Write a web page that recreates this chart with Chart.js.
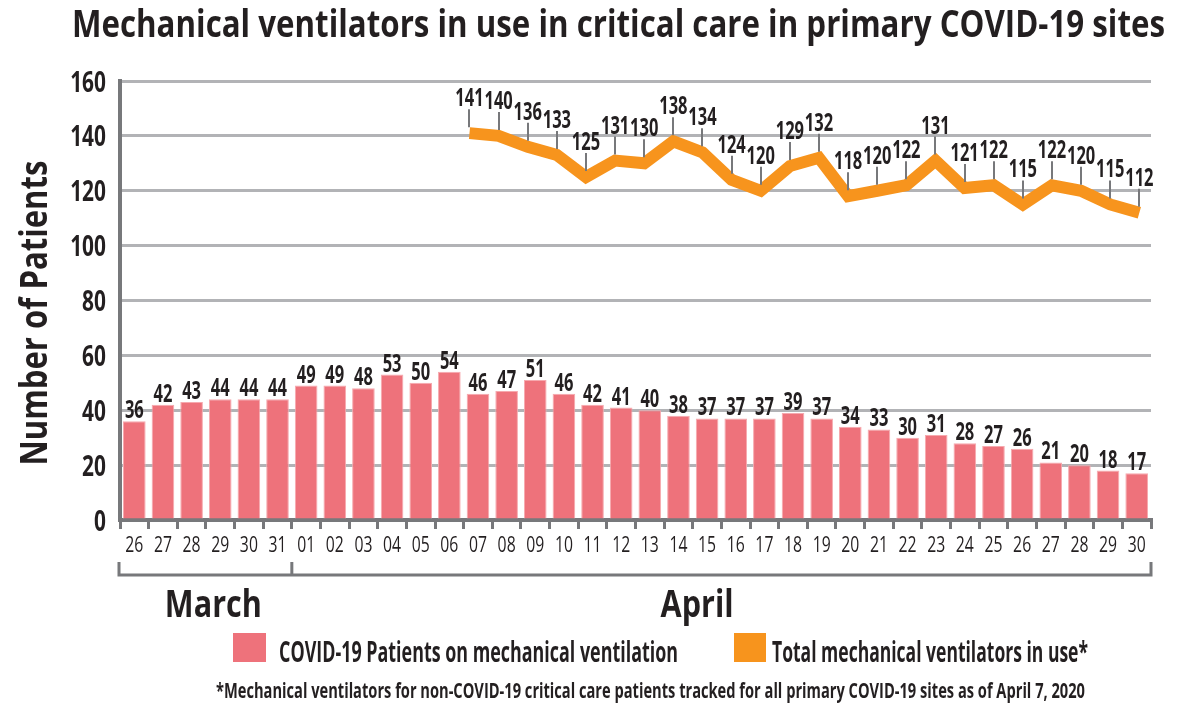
<!DOCTYPE html>
<html>
<head>
<meta charset="utf-8">
<script src="https://cdn.jsdelivr.net/npm/chart.js@4.4.1/dist/chart.umd.min.js"></script>
<style>
  html, body { margin: 0; padding: 0; background: #fff; }
</style>
</head>
<body>
<canvas id="ventChart" width="1181" height="703"></canvas>
<script>
// day labels on the x axis, March 26 to April 30
const dayLabels = ['26', '27', '28', '29', '30', '31',
    '01', '02', '03', '04', '05', '06', '07', '08', '09', '10',
    '11', '12', '13', '14', '15', '16', '17', '18', '19', '20',
    '21', '22', '23', '24', '25', '26', '27', '28', '29', '30'];

// COVID-19 patients on mechanical ventilation (bars)
const covidPatients = [36, 42, 43, 44, 44, 44,
    49, 49, 48, 53, 50, 54, 46, 47, 51, 46,
    42, 41, 40, 38, 37, 37, 37, 39, 37, 34,
    33, 30, 31, 28, 27, 26, 21, 20, 18, 17];

// total mechanical ventilators in use (line), tracked from April 07
const totalVentilators = [141, 140, 136, 133, 125, 131, 130, 138, 134, 124,
    120, 129, 132, 118, 120, 122, 131, 121, 122, 115, 122, 120, 115, 112];
const totalStartIndex = 12;

// y axis range
const yMin = 0;
const yMax = 160;
const yStep = 20;

// months under the x axis
const monthNames = ['March', 'April'];

// texts
const chartTitle = 'Mechanical ventilators in use in critical care in primary COVID-19 sites';
const yTitle = 'Number of Patients';
const legendLabels = ['COVID-19 Patients on mechanical ventilation', 'Total mechanical ventilators in use*'];
const footnote = '*Mechanical ventilators for non-COVID-19 critical care patients tracked for all primary COVID-19 sites as of April 7, 2020';

// colours
const axisGray = '#77787b';
const gridGray = '#b2b3b6';
const textColor = '#231f20';
const barPink = '#ee727b';
const lineOrange = '#f7941d';
const fontFamily = '"Open Sans", "Noto Sans", sans-serif';

//draw text squeezed horizontally so it looks like a condensed face
function drawText(ctx, str, x, y, opts) {
    ctx.save();
    ctx.font = (opts.weight || 'normal') + ' ' + opts.size + 'px ' + fontFamily;
    let sx = opts.sx || 1;
    if (opts.width) {
        sx = opts.width / ctx.measureText(str).width;
    }
    ctx.translate(x, y);
    if (opts.rotate) ctx.rotate(opts.rotate);
    ctx.scale(sx, 1);
    ctx.fillStyle = opts.color || textColor;
    ctx.textAlign = opts.align || 'left';
    ctx.textBaseline = 'alphabetic';
    ctx.fillText(str, 0, 0);
    ctx.restore();
}

//plugin that draws the labels, brackets, legend and notes
const decorations = {
    id: 'decorations',
    afterDraw(chart) {
        const ctx = chart.ctx;
        const xs = chart.scales.x;
        const ys = chart.scales.y;
        const area = chart.chartArea;

        // title
        drawText(ctx, chartTitle, 72, 37, { size: 37, weight: 'bold', width: 1093 });

        // y axis title
        drawText(ctx, yTitle, 47, 313, { size: 37, weight: 'bold', width: 305, align: 'center', rotate: -Math.PI / 2 });

        // y tick labels
        ys.ticks.forEach(t => {
            drawText(ctx, String(t.value), 106, ys.getPixelForValue(t.value) + 10.5,
                { size: 29, weight: 'bold', sx: 0.72, align: 'right' });
        });

        // x tick labels
        dayLabels.forEach((lab, i) => {
            drawText(ctx, lab, xs.getPixelForValue(i), 552, { size: 21, sx: 0.75, align: 'center' });
        });

        // bar value labels
        const barMeta = chart.getDatasetMeta(0);
        barMeta.data.forEach((bar, i) => {
            drawText(ctx, String(covidPatients[i]), bar.x, bar.y - 3,
                { size: 25, weight: 'bold', sx: 0.66, align: 'center' });
        });

        // line value labels with leader ticks
        const lineMeta = chart.getDatasetMeta(1);
        ctx.save();
        ctx.strokeStyle = axisGray;
        ctx.lineWidth = 2;
        lineMeta.data.forEach(pt => {
            ctx.beginPath();
            ctx.moveTo(Math.round(pt.x), pt.y - 24);
            ctx.lineTo(Math.round(pt.x), pt.y - 6);
            ctx.stroke();
        });
        ctx.restore();
        lineMeta.data.forEach((pt, i) => {
            drawText(ctx, String(totalVentilators[i]), pt.x, pt.y - 27,
                { size: 25, weight: 'bold', sx: 0.66, align: 'center' });
        });

        // month brackets
        const split = (xs.getPixelForValue(5) + xs.getPixelForValue(6)) / 2;
        ctx.save();
        ctx.strokeStyle = axisGray;
        ctx.lineWidth = 3;
        ctx.beginPath();
        ctx.moveTo(area.left - 1, 562);
        ctx.lineTo(area.left - 1, 575);
        ctx.lineTo(area.right, 575);
        ctx.lineTo(area.right, 562);
        ctx.moveTo(split, 562);
        ctx.lineTo(split, 575);
        ctx.stroke();
        ctx.restore();

        drawText(ctx, monthNames[0], xs.getPixelForValue(2.76), 617, { size: 38, weight: 'bold', width: 97, align: 'center' });
        drawText(ctx, monthNames[1], xs.getPixelForValue(19.65), 617, { size: 38, weight: 'bold', width: 73, align: 'center' });

        // legend
        ctx.fillStyle = barPink;
        ctx.fillRect(233, 633, 33, 29);
        drawText(ctx, legendLabels[0], 279, 662, { size: 28, weight: 'bold', width: 399 });
        ctx.fillStyle = lineOrange;
        ctx.fillRect(734, 633, 32, 29);
        drawText(ctx, legendLabels[1], 772, 662, { size: 28, weight: 'bold', width: 316 });

        // footnote
        drawText(ctx, footnote, 216, 698, { size: 22, weight: 'bold', width: 869 });
    }
};

const ventChart = new Chart(document.getElementById('ventChart'), {
    type: 'bar',
    data: {
        labels: dayLabels,
        datasets: [{
            label: legendLabels[0],
            data: covidPatients,
            backgroundColor: barPink,
            borderColor: '#f6a9ae',
            borderWidth: 1,
            barPercentage: 0.79,
            categoryPercentage: 1,
            grouped: false,
            order: 2
        }, {
            type: 'line',
            label: legendLabels[1],
            data: totalVentilators.map((v, i) => ({ x: totalStartIndex + i, y: v })),
            xAxisID: 'x2',
            borderColor: lineOrange,
            borderWidth: 12,
            borderJoinStyle: 'miter',
            borderCapStyle: 'butt',
            pointRadius: 0,
            tension: 0,
            fill: false,
            order: 1
        }]
    },
    options: {
        responsive: false,
        animation: false,
        devicePixelRatio: 1,
        layout: {
            padding: { left: 120, top: 81, right: 30, bottom: 183 }
        },
        plugins: {
            legend: { display: false },
            tooltip: { enabled: false },
            title: { display: false }
        },
        scales: {
            x: {
                type: 'category',
                offset: true,
                ticks: { display: false },
                grid: {
                    display: true,
                    offset: true,
                    drawOnChartArea: false,
                    drawTicks: true,
                    tickLength: 9,
                    color: axisGray,
                    lineWidth: 3
                },
                border: { display: true, color: axisGray, width: 4 },
                afterFit: s => { s.height = 0; }
            },
            x2: {
                type: 'linear',
                position: 'bottom',
                display: true,
                offset: false,
                min: 0,
                max: 35.4,
                ticks: { display: false },
                grid: { display: false, drawTicks: false, offset: false },
                border: { display: false },
                afterFit: s => { s.height = 0; }
            },
            y: {
                min: yMin,
                max: yMax,
                ticks: { display: false, stepSize: yStep },
                grid: { color: gridGray, lineWidth: 3, drawTicks: false },
                border: { display: true, color: axisGray, width: 4 },
                afterFit: s => { s.width = 0; }
            }
        }
    },
    plugins: [decorations]
});
</script>
</body>
</html>
